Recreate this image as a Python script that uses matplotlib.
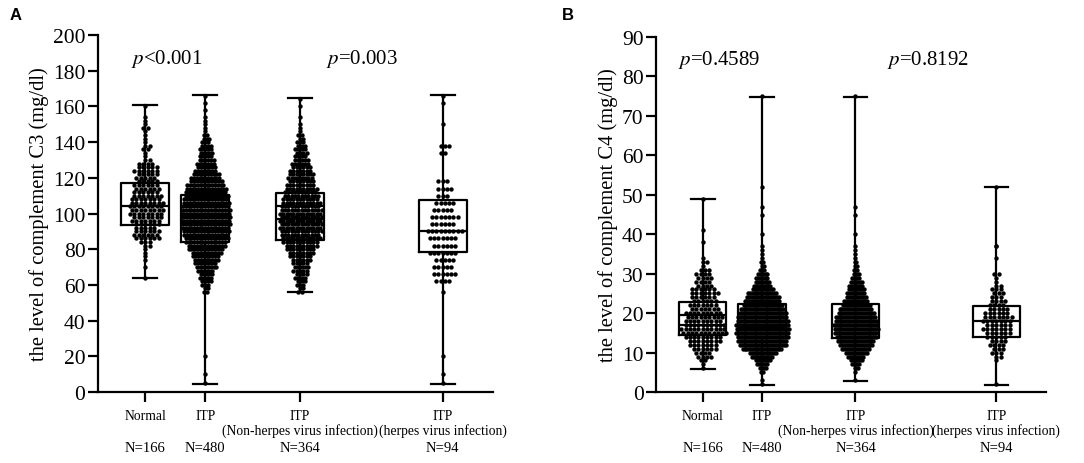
import numpy as np
import matplotlib.pyplot as plt

plt.rcParams['font.family'] = ['Liberation Serif', 'DejaVu Serif']
plt.rcParams['mathtext.fontset'] = 'stix'

# categories and sample sizes
groups = ["Normal", "ITP", "ITP\n(Non-herpes virus infection)", "ITP\n(herpes virus infection)"]
n_labels = ["N=166", "N=480", "N=364", "N=94"]

# ---- complement C3 (mg/dl): box statistics
c3_whislo = [64.0, 4.7, 56.3, 4.7]
c3_q1 = [93.7, 83.8, 85.4, 78.4]
c3_med = [104.2, 95.4, 96.8, 90.0]
c3_q3 = [117.0, 110.4, 111.4, 107.3]
c3_whishi = [160.8, 166.6, 164.6, 166.6]
c3_extra_line = [None, 101.6, 104.4, None]

# C3 points as counts per bin (bin start, bin step, counts) plus single points
c3_normal_start, c3_normal_step = 64, 2
c3_normal_counts = [1, 0, 0, 1, 0, 1, 1, 1, 1, 2, 3, 6, 6, 6, 5, 6, 7, 7, 8, 8,
                    8, 8, 7, 7, 6, 6, 6, 5, 5, 5, 6, 5, 4, 2, 1, 1, 2, 2, 1, 1,
                    1, 1, 2, 1, 1, 1, 0, 0, 1]
c3_normal_single = []

c3_itp_start, c3_itp_step = 56, 2
c3_itp_counts = [2, 2, 3, 4, 5, 5, 6, 8, 8, 9, 10, 11, 13, 14, 15, 16, 16, 17, 17, 18,
                 18, 18, 18, 18, 17, 17, 16, 16, 15, 15, 14, 12, 11, 10, 8, 7, 7, 6, 5, 5,
                 5, 4, 3, 3, 2, 1, 1, 1, 1, 1, 0, 1, 0, 1, 0, 1]
c3_itp_single = [5, 10, 20]

c3_nonherpes_start, c3_nonherpes_step = 56, 2
c3_nonherpes_counts = [2, 2, 3, 3, 4, 4, 5, 5, 5, 6, 7, 8, 9, 10, 11, 12, 12, 13, 13, 13,
                       13, 13, 13, 13, 12, 12, 11, 11, 10, 10, 9, 8, 8, 8, 7, 6, 6, 5, 4, 4,
                       4, 3, 3, 2, 2, 1, 1, 1, 0, 1, 0, 0, 1, 0, 1]
c3_nonherpes_single = []

c3_herpes_start, c3_herpes_step = 62, 4
c3_herpes_counts = [4, 6, 5, 5, 7, 6, 7, 9, 6, 7, 5, 5, 3, 4, 3, 0, 0, 0, 2, 3,
                    0, 0, 1, 0, 0, 1, 1]
c3_herpes_single = [5, 10, 20, 56]

# ---- complement C4 (mg/dl): box statistics
c4_whislo = [5.9, 1.7, 2.7, 1.7]
c4_q1 = [14.5, 13.9, 13.7, 14.0]
c4_med = [17.1, 16.5, 17.1, 18.1]
c4_q3 = [22.9, 22.3, 22.2, 21.7]
c4_whishi = [48.9, 74.8, 74.8, 52.0]
c4_extra_line = [19.5, None, None, None]

c4_normal_start, c4_normal_step = 6, 1
c4_normal_counts = [1, 1, 2, 4, 4, 6, 7, 8, 9, 11, 11, 10, 9, 9, 9, 7, 7, 6, 6, 7,
                    6, 4, 4, 4, 4, 3, 1, 2, 1]
c4_normal_single = [38, 41, 49]

c4_itp_start, c4_itp_step = 5, 1
c4_itp_counts = [2, 4, 6, 9, 12, 15, 22, 26, 27, 28, 29, 29, 29, 28, 27, 26, 24, 22, 20, 18,
                 16, 12, 10, 8, 7, 6, 3, 2, 2, 1, 1]
c4_itp_single = [2, 3, 36, 37, 40, 45, 47, 52, 75]

c4_nonherpes_start, c4_nonherpes_step = 5, 1
c4_nonherpes_counts = [1, 3, 5, 7, 9, 12, 15, 18, 20, 22, 23, 24, 24, 23, 22, 20, 18, 15, 13, 11,
                       10, 9, 8, 7, 5, 4, 3, 2, 2, 1, 1]
c4_nonherpes_single = [3, 36, 37, 40, 45, 47, 75]

c4_herpes_start, c4_herpes_step = 8, 1
c4_herpes_counts = [1, 2, 3, 3, 4, 4, 5, 6, 7, 6, 7, 7, 6, 5, 4, 4, 3, 3, 3, 2,
                    1, 1, 2]
c4_herpes_single = [2, 34, 37, 37, 52]

positions = [0, 1, 2.58, 4.96]
c3_swarm_width = [0.66, 0.84, 0.72, 0.64]
c4_swarm_width = [0.80, 0.90, 0.76, 0.55]


def swarm(ax, x0, start, step, counts, single, width):
    counts = np.asarray(counts)
    levels = start + step * np.arange(len(counts))
    sp = min(width / counts.max(), 0.075)
    xs, ys = [], []
    for i, (lev, n) in enumerate(zip(levels, counts)):
        shift = sp / 2 if (i % 2 and n > 1) else 0
        off = (np.arange(n) - (n - 1) / 2) * sp + shift
        xs.extend(x0 + off)
        ys.extend([lev] * n)
    xs.extend([x0] * len(single))
    ys.extend(single)
    ax.scatter(xs, ys, s=10, color='black', linewidths=0, zorder=2)


def draw_panel(ax, data, stats, extra, widths, ymax, ystep, ylabel):
    for x0, d, w in zip(positions, data, widths):
        swarm(ax, x0, *d, w)
    lo, q1, med, q3, hi = stats
    bstats = [dict(whislo=lo[i], q1=q1[i], med=med[i], q3=q3[i], whishi=hi[i])
              for i in range(4)]
    ax.bxp(bstats, positions=positions, widths=0.8, showfliers=False,
           patch_artist=False, capwidths=0.4,
           boxprops=dict(color='black', linewidth=1.6),
           medianprops=dict(color='black', linewidth=1.6),
           whiskerprops=dict(color='black', linewidth=1.6),
           capprops=dict(color='black', linewidth=1.6), manage_ticks=False,
           zorder=3)
    for x0, e in zip(positions, extra):
        if e is not None:
            ax.hlines(e, x0 - 0.4, x0 + 0.4, color='black', linewidth=1.6, zorder=3)

    ax.set_xlim(-0.79, 5.80)
    ax.set_ylim(0, ymax)
    ax.set_yticks(np.arange(0, ymax + 1, ystep))
    ax.set_xticks(positions)
    ax.set_xticklabels(groups, fontsize=9.8, linespacing=1.1)
    for x0, nl in zip(positions, n_labels):
        ax.text(x0, -0.155, nl, transform=ax.get_xaxis_transform(),
                ha='center', va='center', fontsize=10.5)
    ax.spines['top'].set_visible(False)
    ax.spines['right'].set_visible(False)
    ax.spines['left'].set_linewidth(1.6)
    ax.spines['bottom'].set_linewidth(1.6)
    ax.tick_params(axis='y', labelsize=15.5, length=7.5, width=1.6, pad=1.5)
    ax.tick_params(axis='x', length=7, width=1.6, pad=5)
    ax.set_ylabel(ylabel, fontsize=14.8, labelpad=3)


fig = plt.figure(figsize=(10.84, 4.64), dpi=100)
axA = fig.add_axes([0.0904, 0.153, 0.3644, 0.7694])
axB = fig.add_axes([0.6052, 0.153, 0.3598, 0.765])

draw_panel(axA,
           [(c3_normal_start, c3_normal_step, c3_normal_counts, c3_normal_single),
            (c3_itp_start, c3_itp_step, c3_itp_counts, c3_itp_single),
            (c3_nonherpes_start, c3_nonherpes_step, c3_nonherpes_counts, c3_nonherpes_single),
            (c3_herpes_start, c3_herpes_step, c3_herpes_counts, c3_herpes_single)],
           (c3_whislo, c3_q1, c3_med, c3_q3, c3_whishi), c3_extra_line,
           c3_swarm_width, 200, 20, "the level of complement C3 (mg/dl)")

draw_panel(axB,
           [(c4_normal_start, c4_normal_step, c4_normal_counts, c4_normal_single),
            (c4_itp_start, c4_itp_step, c4_itp_counts, c4_itp_single),
            (c4_nonherpes_start, c4_nonherpes_step, c4_nonherpes_counts, c4_nonherpes_single),
            (c4_herpes_start, c4_herpes_step, c4_herpes_counts, c4_herpes_single)],
           (c4_whislo, c4_q1, c4_med, c4_q3, c4_whishi), c4_extra_line,
           c4_swarm_width, 90, 10, "the level of complement C4 (mg/dl)")

# p values
axA.text(0.35, 187, r"$\mathit{p}$<0.001", ha='center', va='center', fontsize=15)
axA.text(3.62, 187, r"$\mathit{p}$=0.003", ha='center', va='center', fontsize=15)
axB.text(0.27, 84.5, r"$\mathit{p}$=0.4589", ha='center', va='center', fontsize=15)
axB.text(3.81, 84.5, r"$\mathit{p}$=0.8192", ha='center', va='center', fontsize=15)

fig.text(0.009, 0.983, "A", fontsize=12, fontweight='bold', va='top',
         family=['Liberation Sans', 'DejaVu Sans'])
fig.text(0.518, 0.983, "B", fontsize=12, fontweight='bold', va='top',
         family=['Liberation Sans', 'DejaVu Sans'])

fig.savefig('out.png', dpi=100)
